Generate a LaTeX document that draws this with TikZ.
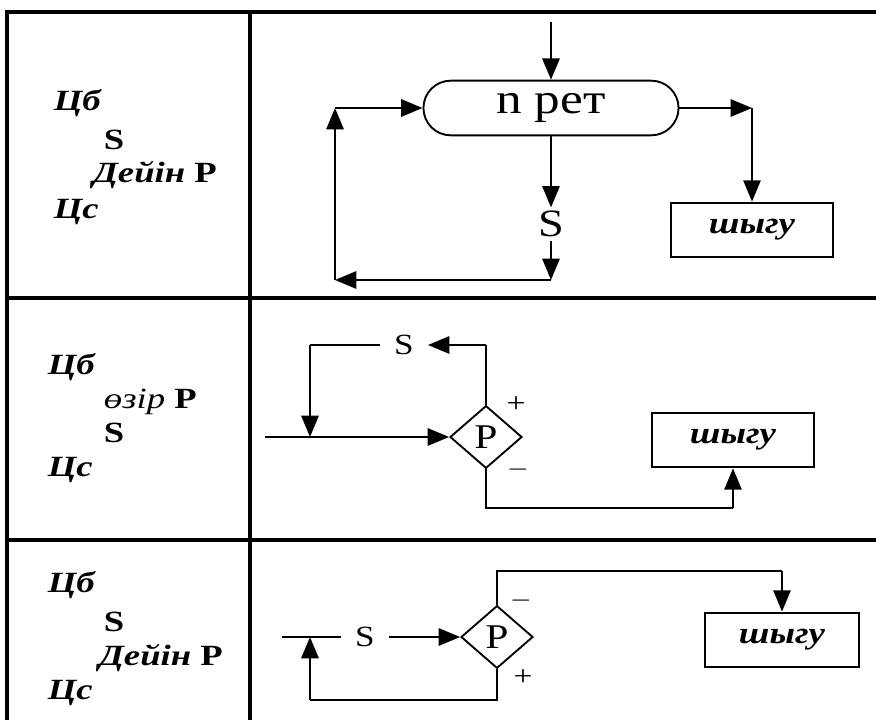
\documentclass[tikz,border=0pt]{standalone}
\usepackage{fontspec}
\setmainfont{Liberation Serif}[FakeStretch=1.2]
\newfontfamily\lblfont{Liberation Serif}[FakeStretch=1.25]
\usetikzlibrary{arrows.meta,shapes.geometric,shapes.misc}

\begin{document}
\begin{tikzpicture}[
  x=0.75pt, y=-0.75pt,
  line width=1.4pt,
  grid/.style={line width=3pt},
  lbl/.style={anchor=west,inner sep=0pt,font=\lblfont\fontsize{22}{23}\selectfont},
  arr/.style={-{Triangle[length=16pt,width=13pt]}},
  exitbox/.style={draw,line width=1.6pt,minimum width=122pt,minimum height=41pt,font=\fontsize{23}{24}\selectfont\bfseries\itshape},
  cond/.style={diamond,draw,inner sep=0pt,minimum width=54pt,minimum height=47pt,font=\fontsize{26}{27}\selectfont},
  sign/.style={inner sep=0pt,font=\fontsize{21}{22}\selectfont},
  sbody/.style={inner xsep=10pt,inner ysep=2pt,font=\fontsize{22}{23}\selectfont}
]
  \useasboundingbox (0,0) rectangle (876,720);
  % table
  \draw[grid] (876,12) -- (7,12) -- (7,720);
  \draw[grid] (250,12) -- (250,720);
  \draw[grid] (7,298) -- (876,298);
  \draw[grid] (7,540) -- (876,540);

  % row 1: n times
  \node[lbl] (a1) at (53,103) {\bfseries\itshape Цб};
  \node[lbl] (a2) at (103,140) {\bfseries S};
  \node[lbl] (a3) at (92,175) {\bfseries\itshape Дейін \upshape P};
  \node[lbl] (a4) at (53,212) {\bfseries\itshape Цс};
  \node[rounded rectangle,draw,minimum width=198pt,minimum height=41pt,font=\fontsize{32}{33}\selectfont] (loop) at (551,108) {n рет};
  \node[inner sep=2pt,font=\fontsize{29}{30}\selectfont] (s1) at (551,224) {S};
  \node[exitbox] (exit1) at (752,230) {шыгу};
  \coordinate (in1) at (551,22);
  \coordinate (b1) at (551,280);
  \coordinate (c1) at (335,280);
  \coordinate (c2) at (335,108);
  \coordinate (r1) at (752,108);
  \draw[arr] (in1) -- (loop.north);
  \draw[arr] (loop.south) -- (s1.north);
  \draw[arr] (s1.south) -- (b1);
  \draw[arr] (b1) -- (c1);
  \draw[arr] (c1) -- (c2);
  \draw[arr] (c2) -- (loop.west);
  \draw[arr] (loop.east) -- (r1);
  \draw[arr] (r1) -- (exit1.north);

  % row 2: while
  \node[lbl] (b1a) at (47,367) {\bfseries\itshape Цб};
  \node[lbl] (b2a) at (103,402) {\itshape өзір \upshape\bfseries P};
  \node[lbl] (b3a) at (103,433) {\bfseries S};
  \node[lbl] (b4a) at (47,470) {\bfseries\itshape Цс};
  \node[cond] (dec2) at (486,437) {P};
  \node[sbody] (s2) at (404,345) {S};
  \node[exitbox] (exit2) at (733,440) {шыгу};
  \node[sign] (p2) at (516,405) {+};
  \node[sign] (m2) at (518,470) {$-$};
  \coordinate (in2) at (265,437);
  \coordinate (t2) at (486,345);
  \coordinate (t3) at (310,345);
  \coordinate (j2) at (310,437);
  \coordinate (d2) at (486,508);
  \coordinate (d3) at (733,508);
  \draw[arr] (in2) -- (dec2.west);
  \draw (dec2.north) -- (t2);
  \draw[arr] (t2) -- (s2.east);
  \draw (s2.west) -- (t3);
  \draw[arr] (t3) -- (j2);
  \draw (dec2.south) -- (d2) -- (d3);
  \draw[arr] (d3) -- (exit2.south);

  % row 3: do ... until
  \node[lbl] (c1a) at (47,585) {\bfseries\itshape Цб};
  \node[lbl] (c2a) at (103,622) {\bfseries S};
  \node[lbl] (c3a) at (98,658) {\bfseries\itshape Дейін \upshape P};
  \node[lbl] (c4a) at (47,693) {\bfseries\itshape Цс};
  \node[cond] (dec3) at (497,637) {P};
  \node[sbody] (s3) at (365,637) {S};
  \node[exitbox,minimum width=116pt] (exit3) at (782,640) {шыгу};
  \node[sign] (m3) at (521,601) {$-$};
  \node[sign] (p3) at (523,678) {+};
  \coordinate (tl) at (282,637);
  \coordinate (u1) at (497,700);
  \coordinate (u2) at (310,700);
  \coordinate (u3) at (310,637);
  \coordinate (v1) at (497,571);
  \coordinate (v2) at (782,571);
  \draw (tl) -- (s3.west);
  \draw[arr] (s3.east) -- (dec3.west);
  \draw (dec3.south) -- (u1) -- (u2);
  \draw[arr] (u2) -- (u3);
  \draw (dec3.north) -- (v1) -- (v2);
  \draw[arr] (v2) -- (exit3.north);
\end{tikzpicture}
\end{document}
